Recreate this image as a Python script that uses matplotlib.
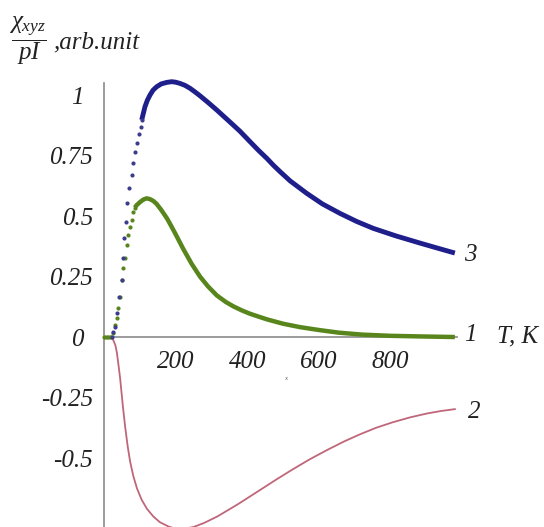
import matplotlib
matplotlib.use('Agg')
import matplotlib.pyplot as plt
from matplotlib.transforms import ScaledTranslation

plt.rcParams['mathtext.fontset'] = 'custom'
plt.rcParams['mathtext.it'] = 'Liberation Serif:italic'
plt.rcParams['mathtext.rm'] = 'Liberation Serif:italic'

# ---- data (T in K, value in arb. units) ----
# curve 3 (blue): steep rise shows as separate sample dots, then a smooth line
blue_dot_T = [22, 25, 30.7, 35.5, 42.7, 49.4, 53.9, 55.9, 61.5, 63.4, 70.7, 77.4, 81.8, 86.6,
              91.3, 97.8, 102.5, 105.3]
blue_dot_v = [0.0, 0.02, 0.043, 0.098, 0.167, 0.236, 0.325, 0.408, 0.476, 0.552, 0.614, 0.669,
              0.718, 0.763, 0.800, 0.838, 0.869, 0.897]
blue_line_T = [105.3, 110, 114.5, 121, 128.5, 137, 147, 160, 175, 189, 200, 212, 226, 240, 254,
               268, 290, 315, 338, 361, 380, 408, 431, 455, 473, 492, 520, 566, 610, 659, 705,
               752, 815, 883, 930, 980]
blue_line_v = [0.897, 0.925, 0.952, 0.978, 1.0, 1.02, 1.034, 1.046, 1.052, 1.055, 1.053, 1.048,
               1.04, 1.028, 1.013, 0.997, 0.97, 0.938, 0.907, 0.876, 0.85, 0.807, 0.772, 0.738,
               0.71, 0.683, 0.645, 0.594, 0.55, 0.511, 0.478, 0.449, 0.418, 0.388, 0.368, 0.347]

# curve 1 (green)
green_dot_T = [0, 4, 8, 12, 16, 20, 25, 31, 35.5, 40, 44.7, 49.4, 53.9, 58.7, 63.4, 67.9, 72.6,
               77.4, 81.8, 86]
green_dot_v = [0.0, 0.0, 0.0, 0.0, 0.0, 0.0, 0.017, 0.05, 0.08, 0.119, 0.167, 0.236, 0.284,
               0.325, 0.380, 0.421, 0.456, 0.483, 0.518, 0.535]
green_line_T = [86, 91.3, 101, 110, 119, 128, 138, 147, 160, 176, 188, 200, 221, 245, 268, 290,
                315, 340, 361, 385, 408, 455, 500, 547, 600, 656, 720, 800, 900, 980]
green_line_v = [0.535, 0.545, 0.558, 0.568, 0.573, 0.57, 0.562, 0.55, 0.525, 0.49, 0.458, 0.425,
                0.365, 0.302, 0.25, 0.21, 0.172, 0.145, 0.127, 0.11, 0.096, 0.073, 0.055, 0.041,
                0.029, 0.018, 0.01, 0.005, 0.002, 0.0]

# curve 2 (red)
red_T = [22, 28, 32, 36, 40, 45, 53, 59, 66, 73, 82, 92, 105, 120, 138, 156, 180, 200, 215, 250,
         280, 316, 375, 436, 480, 528, 575, 623, 670, 715, 760, 807, 855, 902, 940, 980]
red_v = [0.0, -0.02, -0.035, -0.065, -0.11, -0.17, -0.29, -0.37, -0.45, -0.515, -0.575, -0.625,
         -0.672, -0.71, -0.742, -0.765, -0.783, -0.792, -0.795, -0.785, -0.768, -0.742, -0.69,
         -0.632, -0.59, -0.546, -0.505, -0.467, -0.432, -0.402, -0.375, -0.352, -0.332, -0.316,
         -0.306, -0.298]

x_ticks = [200, 400, 600, 800]
x_tick_labels = ['200', '400', '600', '800']
y_ticks = [1, 0.75, 0.5, 0.25, 0, -0.25, -0.5]
y_tick_labels = ['1', '0.75', '0.5', '0.25', '0', '-0.25', '-0.5']

curve_labels = ['3', '1', '2']
curve_label_T = [1022, 1022, 1034]
curve_label_v = [0.339, 0.008, -0.31]

BLUE = '#1f1f8c'
BLUE_DOT = '#3c3c8c'
GREEN = '#58861c'
RED = '#c0667a'
AXIS = '#8a8a8a'
TXT = '#222222'

FONT = dict(family='Liberation Serif', style='italic')
FS = 18

fig = plt.figure(figsize=(5.44, 5.27), dpi=100)
ax = fig.add_axes([0, 0, 1, 1])
ax.set_xlim(-290.5, 1229)
ax.set_ylim(-0.785, 1.3926)

ax.plot(red_T, red_v, color=RED, lw=1.3, zorder=3, solid_joinstyle='round')
ax.plot(green_line_T, green_line_v, color=GREEN, lw=3.2, zorder=3,
        solid_capstyle='butt', solid_joinstyle='round')
ax.plot(green_dot_T, green_dot_v, 'o', ms=3.0, color=GREEN, mec='none', zorder=3)
ax.plot(blue_line_T, blue_line_v, color=BLUE, lw=3.5, zorder=4,
        solid_capstyle='butt', solid_joinstyle='round')
ax.plot(blue_dot_T, blue_dot_v, 'o', ms=3.0, color=BLUE_DOT, mec='none', zorder=4)

for s in ['top', 'right']:
    ax.spines[s].set_visible(False)
ax.spines['left'].set_position(('data', 0))
ax.spines['bottom'].set_position(('data', 0))
ax.spines['left'].set_bounds(-0.785, 1.05)
ax.spines['bottom'].set_bounds(0, 985)
for s in ['left', 'bottom']:
    ax.spines[s].set_color(AXIS)
    ax.spines[s].set_linewidth(1.2)

ax.set_xticks(x_ticks)
ax.set_xticklabels(x_tick_labels, fontsize=FS, color=TXT, **FONT)
ax.set_yticks(y_ticks)
ax.set_yticklabels(y_tick_labels, fontsize=FS, color=TXT, **FONT)
ax.tick_params(axis='x', length=0, pad=10)
ax.tick_params(axis='y', length=0, pad=8)
# single-digit labels sit a little further left in the original
for lab in ax.get_yticklabels():
    if lab.get_text() in ('1', '0'):
        lab.set_transform(lab.get_transform() + ScaledTranslation(-9 / 100, 0, fig.dpi_scale_trans))

for lab, t, v in zip(curve_labels, curve_label_T, curve_label_v):
    ax.text(t, v, lab, fontsize=FS, color=TXT, ha='center', va='center', **FONT)
ax.text(1154, 0.004, 'T, K', fontsize=FS, color=TXT, ha='center', va='center', **FONT)
ax.text(506, -0.17, 'x', fontsize=5, color='#666666', ha='center', va='center', **FONT)

fig.text(9 / 544, 1 - 41 / 527, r'$\dfrac{\chi_{xyz}}{pI}$', fontsize=18, color=TXT,
         ha='left', va='center')
fig.text(53 / 544, 1 - 42 / 527, ',arb.unit', fontsize=18, color=TXT,
         ha='left', va='center', **FONT)

fig.savefig('out.png', dpi=100)
